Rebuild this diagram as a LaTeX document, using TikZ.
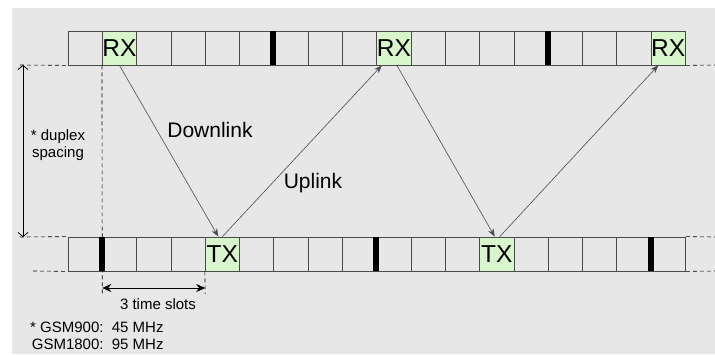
\documentclass[tikz,border=0pt]{standalone}
\usepackage{fontspec}
\setmainfont{Liberation Sans}
\usetikzlibrary{arrows.meta}
\definecolor{panel}{HTML}{E7E7E7}
\definecolor{slotgreen}{HTML}{D8F6CB}
\definecolor{frame}{HTML}{4A4A4A}
\begin{document}
\begin{tikzpicture}[x=1pt,y=-1pt,
    cell/.style={draw=frame,line width=0.7pt,minimum width=34.3pt,minimum height=34pt,inner sep=0pt},
    slot/.style={cell,fill=slotgreen,font=\fontsize{24.5}{24.5}\selectfont},
    link/.style={draw=black!70,line width=0.6pt,-{Stealth[length=8pt,width=6pt,inset=2.5pt]},black!70},
    guide/.style={dashed,dash pattern=on 4pt off 3pt,line width=0.6pt},
    small/.style={font=\fontsize{15}{17}\selectfont}]
\useasboundingbox (0,0) rectangle (715,354);
\fill[panel] (12,8) rectangle (715,354);
%\draw[help lines] (0,0) grid[step=50] (715,354);
\foreach \i in {0,...,17}{
    \node[cell] (t\i) at ({68+34.3*(\i+0.5)},48) {};
    \node[cell] (b\i) at ({68+34.3*(\i+0.5)},254) {};
}
\node[slot] (rx1) at (t1) {RX};
\node[slot] (rx2) at (t9) {RX};
\node[slot] (rx3) at (t17) {RX};
\node[slot] (tx1) at (b4) {TX};
\node[slot] (tx2) at (b12) {TX};
% frame markers
\foreach \c in {t6,t14,b1,b9,b17}
    \fill ([xshift=-3pt]\c.north west) rectangle ([xshift=3pt]\c.south west);
% dashed continuations
\coordinate (dl1) at (20,65);
\coordinate (dl2) at (20,237);
\coordinate (dl3) at (33,271);
\coordinate (dr1) at (715,65);
\coordinate (dr2) at (715,237);
\coordinate (dr3) at (715,271);
\draw[guide] (dl1) -- (t0.south west);
\draw[guide] (dl2) -- (b0.north west);
\draw[guide] (dl3) -- (b0.south west);
\draw[guide] (t17.south east) -- (dr1);
\draw[guide] (b17.north east) -- (dr2);
\draw[guide] (b17.south east) -- (dr3);
\coordinate (s1) at (102.3,294);
\coordinate (s2) at (205.2,294);
\draw[guide] (t1.south west) -- (s1);
\draw[guide] (b4.south west) -- (s2);
% duplex spacing
\coordinate (d1) at (23,65);
\coordinate (d2) at (23,237);
\draw[line width=0.8pt,{Straight Barb[length=4pt,width=10pt]}-{Straight Barb[length=4pt,width=10pt]}] (d1) -- (d2);
\node[small,align=center] (duplex) at (58,145) {* duplex\\ spacing};
% time slots
\draw[line width=0.8pt,{Stealth[length=9pt,width=8pt,inset=3pt]}-{Stealth[length=9pt,width=8pt,inset=3pt]}] (s1 |- 0,288) -- (s2 |- 0,288);
\node[small] (slots) at (158,304) {3 time slots};
% links
\draw[link] (rx1.south) -- ([xshift=-4pt]tx1.north);
\draw[link] (tx1.north) -- ([xshift=-12pt]rx2.south);
\draw[link] ([xshift=3pt]rx2.south) -- ([xshift=-2pt]tx2.north);
\draw[link] ([xshift=3pt]tx2.north) -- ([xshift=-10pt]rx3.south);
\node[font=\fontsize{21}{21}\selectfont] (down) at (210,130) {Downlink};
\node[font=\fontsize{21}{21}\selectfont] (up) at (313,183) {Uplink};
% footnote
\node[small,anchor=north west,inner sep=0pt] (note) at (30,320)
    {\begin{tabular}{@{}r@{\ \ }l@{}}* GSM900: & 45 MHz\\ GSM1800: & 95 MHz\end{tabular}};
\end{tikzpicture}
\end{document}
